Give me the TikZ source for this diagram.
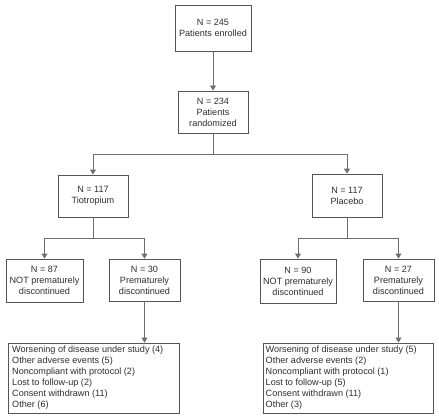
\documentclass[tikz,border=0pt]{standalone}
\usepackage{fontspec}
\setmainfont{Liberation Sans}
\usetikzlibrary{arrows.meta}
\definecolor{boxc}{RGB}{85,85,85}
\definecolor{linec}{RGB}{110,110,110}
\definecolor{txtc}{RGB}{45,45,45}
\begin{document}
\begin{tikzpicture}[x=1pt,y=-1pt,
  box/.style={draw=boxc,line width=0.9pt,inner sep=0pt,align=center,text=txtc,
    font=\fontsize{9.1}{11}\selectfont},
  listbox/.style={draw=boxc,line width=0.9pt,inner sep=0pt,text=txtc,
    font=\fontsize{9.1}{11}\selectfont},
  arr/.style={draw=linec,line width=0.9pt,-{Triangle[width=6pt,length=5pt]}},
  ln/.style={draw=linec,line width=0.9pt}]
\useasboundingbox (0,0) rectangle (439,417);
\node[box,minimum width=76pt,minimum height=46pt] (enr) at (213,28) {N = 245\\Patients enrolled};
\node[box,minimum width=70pt,minimum height=42pt] (ran) at (213,112) {N = 234\\Patients\\randomized};
\node[box,minimum width=70pt,minimum height=42pt] (tio) at (93,196) {N = 117\\Tiotropium};
\node[box,minimum width=70pt,minimum height=43pt] (pla) at (347,195.5) {N = 117\\Placebo};
\node[box,minimum width=77pt,minimum height=43pt] (tnot) at (44.5,280.5) {N = 87\\NOT prematurely\\discontinued};
\node[box,minimum width=71pt,minimum height=42pt] (tpre) at (144.5,280) {N = 30\\Prematurely\\discontinued};
\node[box,minimum width=76pt,minimum height=44pt] (pnot) at (298,281) {N = 90\\NOT prematurely\\discontinued};
\node[box,minimum width=71pt,minimum height=42pt] (ppre) at (398.5,280) {N = 27\\Prematurely\\discontinued};
\node[listbox,minimum width=171pt,minimum height=70pt] (tlist) at (93.5,378) {};
\node[anchor=north west,inner sep=0pt,align=left,text=txtc,font=\fontsize{9.1}{11}\selectfont] (tlt) at (12,346)
 {Worsening of disease under study (4)\\Other adverse events (5)\\Noncompliant with protocol (2)\\Lost to follow-up (2)\\Consent withdrawn (11)\\Other (6)};
\node[listbox,minimum width=170pt,minimum height=70pt] (plist) at (348,378) {};
\node[anchor=north west,inner sep=0pt,align=left,text=txtc,font=\fontsize{9.1}{11}\selectfont] (plt) at (265.5,346)
 {Worsening of disease under study (5)\\Other adverse events (2)\\Noncompliant with protocol (1)\\Lost to follow-up (5)\\Consent withdrawn (11)\\Other (3)};
\coordinate (s1) at (213,154);
\coordinate (s2) at (93,238);
\coordinate (s3) at (347,238);
\draw[arr] (enr) -- (ran);
\draw[ln] (ran.south) -- (s1);
\draw[arr] (s1) -| (tio.north);
\draw[arr] (s1) -| (pla.north);
\draw[ln] (tio.south) -- (s2);
\draw[arr] (s2) -| (tnot.north);
\draw[arr] (s2) -| (tpre.north);
\draw[ln] (pla.south) -- (s3);
\draw[arr] (s3) -| (pnot.north);
\draw[arr] (s3) -| (ppre.north);
\draw[arr] (tpre.south) -- (tpre.south |- tlist.north);
\draw[arr] (ppre.south) -- (ppre.south |- plist.north);
\end{tikzpicture}
\end{document}
